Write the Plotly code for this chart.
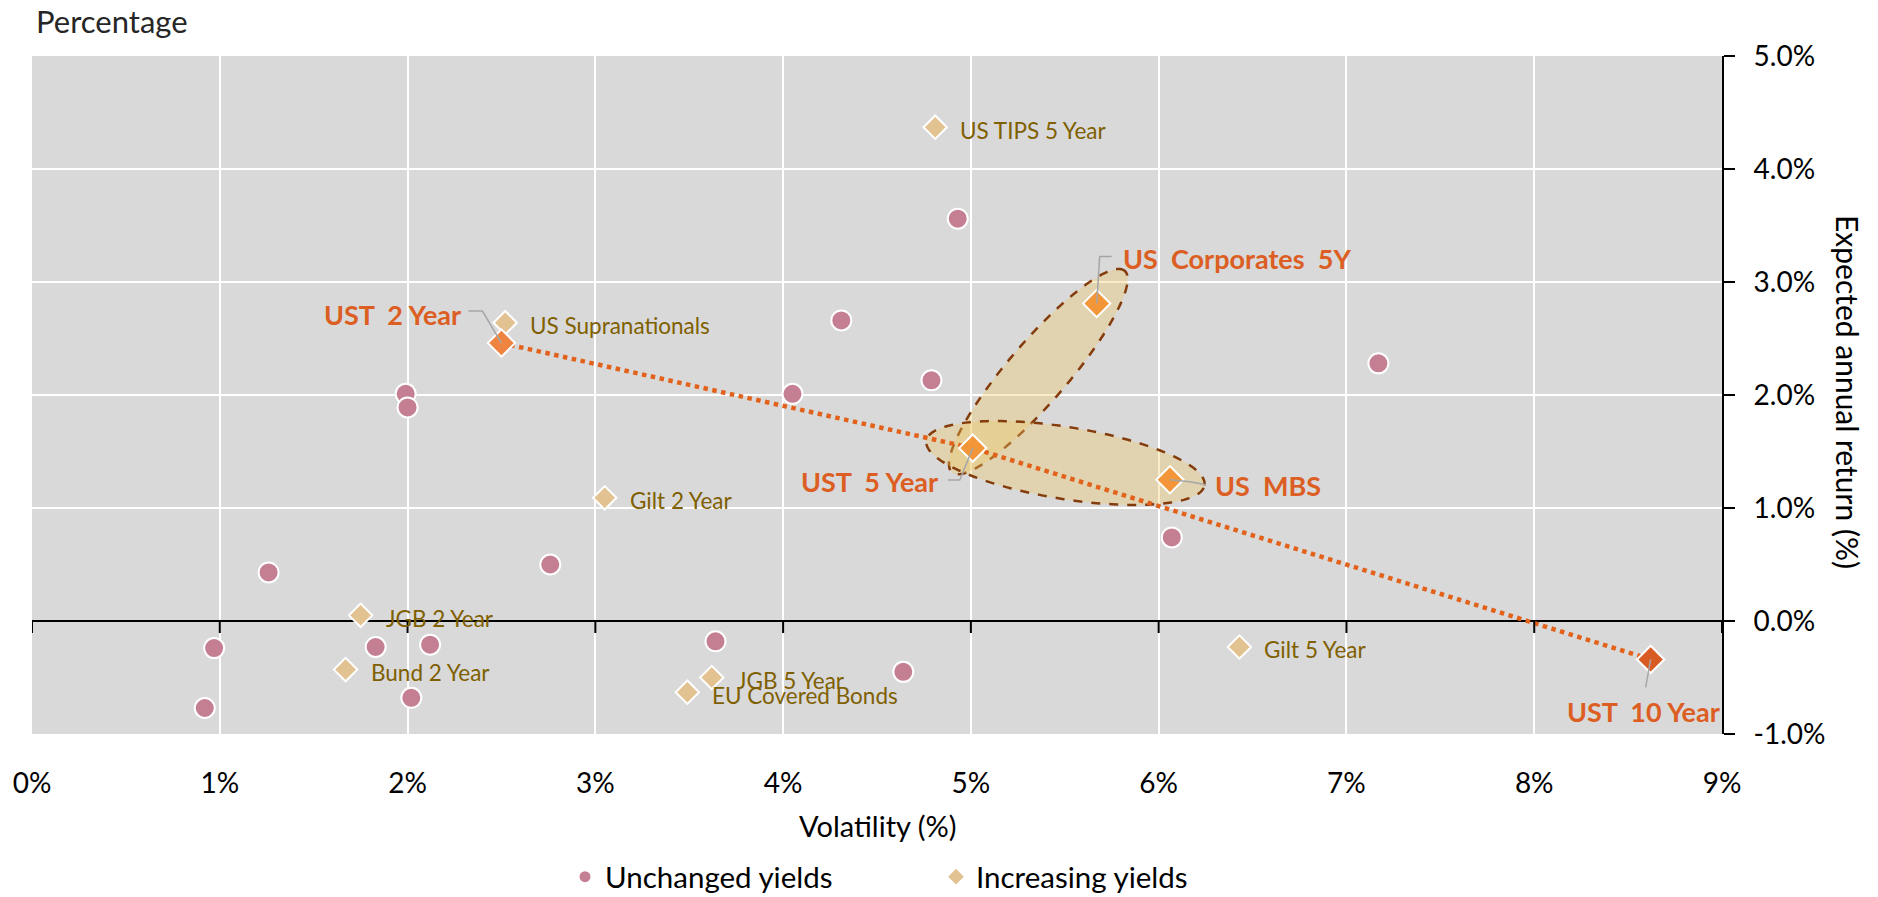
import numpy as np
import plotly.graph_objects as go

# ---------------- data ----------------
unchanged_x = [0.92, 0.97, 1.26, 1.83, 1.99, 2.00, 2.02, 2.12, 2.76, 3.64, 4.05, 4.31, 4.64, 4.79, 4.93, 6.07, 7.17]
unchanged_y = [-0.77, -0.24, 0.43, -0.23, 2.01, 1.89, -0.68, -0.21, 0.50, -0.18, 2.01, 2.66, -0.45, 2.13, 3.56, 0.74, 2.28]

increasing_names = ["US TIPS 5 Year", "US Supranationals", "Gilt 2 Year", "JGB 2 Year",
                    "Bund 2 Year", "JGB 5 Year", "EU Covered Bonds", "Gilt 5 Year"]
increasing_x = [4.81, 2.52, 3.05, 1.75, 1.67, 3.62, 3.49, 6.43]
increasing_y = [4.37, 2.64, 1.09, 0.05, -0.43, -0.50, -0.63, -0.23]

highlight_names = ["UST\u00a0\u00a02 Year", "UST\u00a0\u00a05 Year", "US\u00a0 Corporates\u00a0 5Y",
                   "US\u00a0 MBS", "UST\u00a0\u00a010 Year"]
highlight_x = [2.50, 5.01, 5.67, 6.06, 8.62]
highlight_y = [2.46, 1.53, 2.81, 1.25, -0.34]

ust_curve = ["UST\u00a0\u00a02 Year", "UST\u00a0\u00a05 Year", "UST\u00a0\u00a010 Year"]

x_ticks = [0, 1, 2, 3, 4, 5, 6, 7, 8, 9]
x_tick_labels = ["0%", "1%", "2%", "3%", "4%", "5%", "6%", "7%", "8%", "9%"]
y_ticks = [-1, 0, 1, 2, 3, 4, 5]
y_tick_labels = ["-1.0%", "0.0%", "1.0%", "2.0%", "3.0%", "4.0%", "5.0%"]

# ---------------- layout constants ----------------
W, H = 1878, 897
# plot area in screen pixels
P_LEFT, P_RIGHT, P_TOP, P_BOTTOM = 32, 1722, 56, 734
ML, MT = P_LEFT, P_TOP
MR, MB = W - P_RIGHT, H - P_BOTTOM
X_RANGE = [0, 9]
Y_RANGE = [-1, 5]
PW, PH = P_RIGHT - P_LEFT, P_BOTTOM - P_TOP
PX_X = PW / (X_RANGE[1] - X_RANGE[0])
PX_Y = PH / (Y_RANGE[1] - Y_RANGE[0])

FONT = "Lato"
C_CIRCLE = "#c47f92"
C_TAN = "#e2c290"
C_OLIVE = "#7f6000"
C_LABEL = "#dc5e22"
C_LINE = "#e2621b"
HL_COLORS = ["#ef8441", "#f39639", "#f39639", "#f39639", "#d75b22"]


def px_paper_x(px):
    return (px - P_LEFT) / PW


def px_paper_y(py):
    return (P_BOTTOM - py) / PH


def ellipse_path(p1, p2, pad1, pad2, semi_minor, n=160):
    a1 = np.array([p1[0] * PX_X, p1[1] * PX_Y])
    a2 = np.array([p2[0] * PX_X, p2[1] * PX_Y])
    d = (a2 - a1) / np.linalg.norm(a2 - a1)
    nrm = np.array([-d[1], d[0]])
    t1 = a1 - d * pad1
    t2 = a2 + d * pad2
    c = (t1 + t2) / 2
    a = np.linalg.norm(t2 - t1) / 2
    t = np.linspace(0, 2 * np.pi, n)
    pts = c[None, :] + np.outer(a * np.cos(t), d) + np.outer(semi_minor * np.sin(t), nrm)
    xs = pts[:, 0] / PX_X
    ys = pts[:, 1] / PX_Y
    return "M " + " L ".join(f"{x:.5f},{y:.5f}" for x, y in zip(xs, ys)) + " Z"


hl = {n: (x, y) for n, x, y in zip(highlight_names, highlight_x, highlight_y)}

fig = go.Figure()

# UST curve (dotted)
fig.add_trace(go.Scatter(
    x=[hl[n][0] for n in ust_curve], y=[hl[n][1] for n in ust_curve],
    mode="lines", line=dict(color=C_LINE, width=4.5, dash="dot"),
    hoverinfo="skip", showlegend=False))

fig.add_trace(go.Scatter(
    x=unchanged_x, y=unchanged_y, mode="markers", name="Unchanged yields",
    marker=dict(symbol="circle", size=20, color=C_CIRCLE, line=dict(color="white", width=2)),
    showlegend=False))

fig.add_trace(go.Scatter(
    x=increasing_x, y=increasing_y, mode="markers", name="Increasing yields",
    text=increasing_names,
    marker=dict(symbol="diamond", size=18, color=C_TAN, line=dict(color="white", width=2)),
    showlegend=False))

fig.add_trace(go.Scatter(
    x=highlight_x, y=highlight_y, mode="markers", text=highlight_names,
    marker=dict(symbol="diamond", size=21, color=HL_COLORS, line=dict(color="white", width=2)),
    showlegend=False))

# leader lines (screen-pixel offsets from each highlighted point; y downwards)
leader_offsets = [
    [(-33, -32), (-19, -32), (0, 0)],
    [(-25, 32), (-13, 32), (0, 0)],
    [(15, -47), (3, -47), (0, 0)],
    [(0, 0), (20, 2), (36, 5)],
    [(0, 0), (-5, 28)],
]
lx, ly = [], []
for (px, py), offs in zip(zip(highlight_x, highlight_y), leader_offsets):
    for ox, oy in offs:
        lx.append(px + ox / PX_X)
        ly.append(py - oy / PX_Y)
    lx.append(None)
    ly.append(None)
fig.add_trace(go.Scatter(x=lx, y=ly, mode="lines", line=dict(color="#a6a6a6", width=1.5),
                         hoverinfo="skip", showlegend=False))

# legend entries
fig.add_trace(go.Scatter(x=[None], y=[None], mode="markers", name="Unchanged yields",
                         marker=dict(symbol="circle", size=11, color=C_CIRCLE)))
fig.add_trace(go.Scatter(x=[None], y=[None], mode="markers", name="Increasing yields",
                         marker=dict(symbol="diamond", size=12, color=C_TAN)))

shapes = []
shapes.append(dict(type="path", xref="x", yref="y", layer="between",
                   path=ellipse_path(hl[highlight_names[1]], hl[highlight_names[2]], 32, 43, 30),
                   fillcolor="rgba(240,200,100,0.35)",
                   line=dict(color="#843c0c", width=2.5, dash="dash")))
shapes.append(dict(type="path", xref="x", yref="y", layer="between",
                   path=ellipse_path(hl[highlight_names[1]], hl[highlight_names[3]], 47, 35, 36),
                   fillcolor="rgba(240,200,100,0.35)",
                   line=dict(color="#843c0c", width=2.5, dash="dash")))
for xv in x_ticks:
    shapes.append(dict(type="line", xref="x", yref="y", x0=xv, x1=xv, y0=0, y1=-12 / PX_Y,
                       line=dict(color="black", width=2), layer="above"))

annotations = []
for n, x, y in zip(increasing_names, increasing_x, increasing_y):
    annotations.append(dict(x=x, y=y, xref="x", yref="y", text=n, showarrow=False,
                            xanchor="left", yanchor="middle", xshift=23, yshift=-3,
                            font=dict(family=FONT, size=22.5, color=C_OLIVE)))

hl_label_pos = [
    dict(xanchor="right", xshift=-38, yshift=29),
    dict(xanchor="right", xshift=-33, yshift=-33),
    dict(xanchor="left", xshift=24, yshift=45),
    dict(xanchor="left", xshift=43, yshift=-6),
    dict(xanchor="center", xshift=-7, yshift=-52),
]
for n, x, y, pos in zip(highlight_names, highlight_x, highlight_y, hl_label_pos):
    annotations.append(dict(x=x, y=y, xref="x", yref="y", text=f"<b>{n}</b>", showarrow=False,
                            yanchor="middle", font=dict(family=FONT, size=27, color=C_LABEL), **pos))

annotations.append(dict(x=px_paper_x(34), y=px_paper_y(21), xref="paper", yref="paper",
                        text="Percentage", showarrow=False, xanchor="left", yanchor="middle",
                        font=dict(family=FONT, size=31, color="#262626")))
annotations.append(dict(x=px_paper_x(1848), y=px_paper_y(392), xref="paper", yref="paper",
                        text="Expected annual return (%)", showarrow=False, textangle=90,
                        xanchor="center", yanchor="middle",
                        font=dict(family=FONT, size=30, color="#000000")))
annotations.append(dict(x=px_paper_x(877), y=px_paper_y(826), xref="paper", yref="paper",
                        text="Volatility (%)", showarrow=False, xanchor="center", yanchor="middle",
                        font=dict(family=FONT, size=29, color="#000000")))

fig.update_layout(
    width=W, height=H,
    margin=dict(l=ML, r=MR, t=MT, b=MB, autoexpand=False),
    paper_bgcolor="white", plot_bgcolor="#d9d9d9",
    font=dict(family=FONT, size=28, color="#000000"),
    shapes=shapes, annotations=annotations,
    legend=dict(orientation="h", x=px_paper_x(565), y=px_paper_y(877),
                xanchor="left", yanchor="middle", font=dict(family=FONT, size=29.5),
                itemwidth=30, entrywidth=326, entrywidthmode="pixels",
                bgcolor="rgba(0,0,0,0)"),
    xaxis=dict(range=X_RANGE, tickvals=x_ticks, ticktext=x_tick_labels,
               showgrid=True, gridcolor="white", gridwidth=2, zeroline=False,
               showline=False, ticks="", ticklabelstandoff=30,
               tickfont=dict(family=FONT, size=28, color="#000000"), fixedrange=True),
    yaxis=dict(range=Y_RANGE, tickvals=y_ticks, ticktext=y_tick_labels, side="right",
               showgrid=True, gridcolor="white", gridwidth=2,
               zeroline=True, zerolinecolor="black", zerolinewidth=2,
               showline=True, linecolor="black", linewidth=2,
               ticks="outside", ticklen=11, tickwidth=2, tickcolor="black",
               ticklabelstandoff=13,
               tickfont=dict(family=FONT, size=28, color="#000000"), fixedrange=True),
    hovermode="closest",
)

fig.write_html("out.html", config={"displayModeBar": False},
               post_script="document.body.style.margin='0';document.body.style.overflow='hidden';")
